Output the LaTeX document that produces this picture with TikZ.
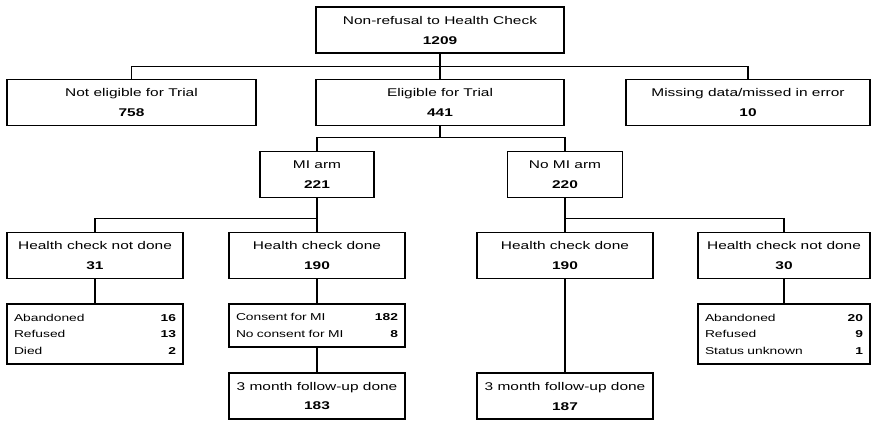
\documentclass[tikz,border=0pt]{standalone}
\usepackage{fontspec}
\setmainfont[FakeStretch=1.38]{Liberation Sans}
\begin{document}
\begin{tikzpicture}[
        x=1pt, y=-1pt,
        box/.style={draw, line width=1.9pt, align=center, inner sep=0pt, minimum height=46pt, font=\fontsize{11.2}{20}\selectfont},
        list/.style={draw, line width=1.9pt, align=left, inner sep=0pt, font=\fontsize{10}{16.5}\selectfont},
        link/.style={line width=1.6pt},
    ]
    \useasboundingbox (0,0) rectangle (872,420);
    \node[box, minimum width=248pt] (a) at (440,30) {Non-refusal to Health Check\\\textbf{1209}};
    \node[box, minimum width=249pt] (b) at (131.5,102.5) {Not eligible for Trial\\\textbf{758}};
    \node[box, minimum width=248pt] (c) at (440,102.5) {Eligible for Trial\\\textbf{441}};
    \node[box, minimum width=244pt] (d) at (748,102.5) {Missing data/missed in error\\\textbf{10}};
    \node[box, minimum width=114pt] (e) at (317,174.5) {MI arm\\\textbf{221}};
    \node[box, minimum width=115pt] (f) at (565,174.5) {No MI arm\\\textbf{220}};
    \node[box, minimum width=176pt] (g) at (95,255.5) {Health check not done\\\textbf{31}};
    \node[box, minimum width=176pt] (h) at (317,255.5) {Health check done\\\textbf{190}};
    \node[box, minimum width=176pt] (i) at (565,255.5) {Health check done\\\textbf{190}};
    \node[box, minimum width=172pt] (j) at (784,255.5) {Health check not done\\\textbf{30}};
    \node[list, minimum width=176pt, minimum height=60pt, text width=162pt] (k) at (95,334)
        {Abandoned\hfill\textbf{16}\\Refused\hfill\textbf{13}\\Died\hfill\textbf{2}};
    \node[list, minimum width=176pt, minimum height=43pt, text width=162pt] (l) at (317,325.5)
        {Consent for MI\hfill\textbf{182}\\No consent for MI\hfill\textbf{8}};
    \node[list, minimum width=172pt, minimum height=60pt, text width=158pt] (m) at (784,334)
        {Abandoned\hfill\textbf{20}\\Refused\hfill\textbf{9}\\Status unknown\hfill\textbf{1}};
    \node[box, minimum width=176pt] (n) at (317,396) {3 month follow-up done\\\textbf{183}};
    \node[box, minimum width=176pt] (o) at (565,396) {3 month follow-up done\\\textbf{187}};
    \draw[link] (a.south) -- (c.north);
    \draw[link] (b.north) -- ++(0,-12) -| (d.north);
    \draw[link] (c.south) -- ++(0,12);
    \draw[link] (e.north) -- ++(0,-13) -| (f.north);
    \draw[link] (e.south) -- (h.north);
    \draw[link] (g.north) -- ++(0,-13) -| (h.north);
    \draw[link] (f.south) -- (i.north);
    \draw[link] (i.north) -- ++(0,-13) -| (j.north);
    \draw[link] (g.south) -- (k.north);
    \draw[link] (h.south) -- (l.north);
    \draw[link] (l.south) -- (n.north);
    \draw[link] (i.south) -- (o.north);
    \draw[link] (j.south) -- (m.north);
\end{tikzpicture}
\end{document}
